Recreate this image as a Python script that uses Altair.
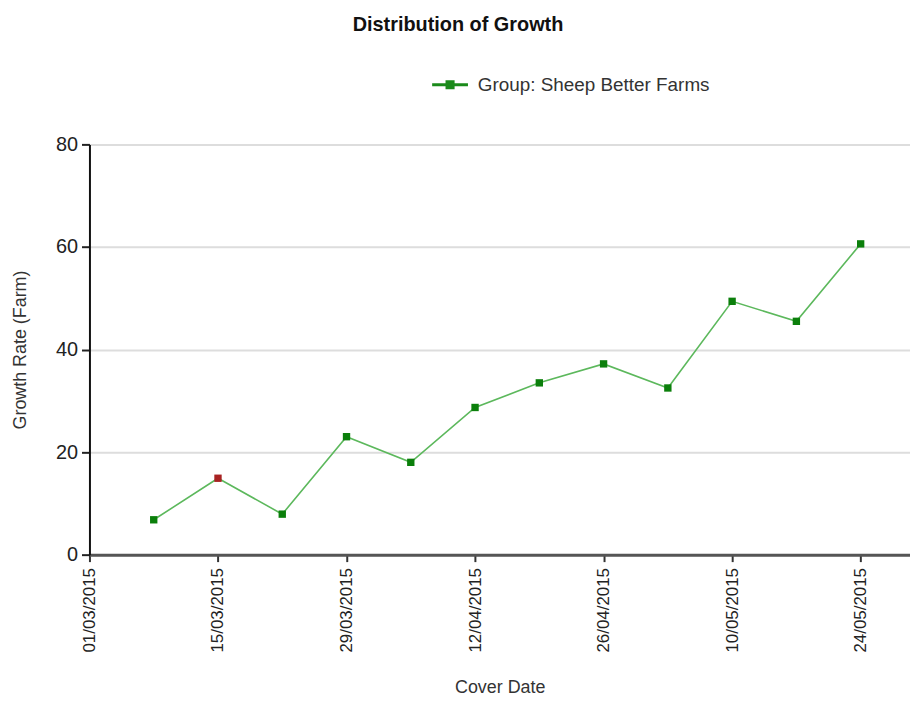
import altair as alt
import pandas as pd

# ---- data ----
dates = ["2015-03-08", "2015-03-15", "2015-03-22", "2015-03-29", "2015-04-05", "2015-04-12",
         "2015-04-19", "2015-04-26", "2015-05-03", "2015-05-10", "2015-05-17", "2015-05-24"]
growth = [6.8, 14.9, 7.9, 23.0, 18.0, 28.7, 33.5, 37.2, 32.5, 49.4, 45.5, 60.6]
marker_colors = ["#0b7f0b", "#a82222", "#0b7f0b", "#0b7f0b", "#0b7f0b", "#0b7f0b",
                 "#0b7f0b", "#0b7f0b", "#0b7f0b", "#0b7f0b", "#0b7f0b", "#0b7f0b"]
series_name = "Group: Sheep Better Farms"
tick_dates = [(2015, 3, 1), (2015, 3, 15), (2015, 3, 29), (2015, 4, 12),
              (2015, 4, 26), (2015, 5, 10), (2015, 5, 24)]
y_ticks = [0, 20, 40, 60, 80]

df = pd.DataFrame({
    "date": pd.to_datetime(dates),
    "growth": growth,
    "mcolor": marker_colors,
    "series": [series_name] * len(dates),
})

FONT = "Liberation Sans"

x_enc = alt.X(
    "date:T",
    title="Cover Date",
    scale=alt.Scale(domain=[alt.DateTime(year=2015, month=3, date=1),
                            alt.DateTime(year=2015, month=5, date=29, hours=9)]),
    axis=alt.Axis(
        values=[alt.DateTime(year=y, month=m, date=d) for (y, m, d) in tick_dates],
        format="%d/%m/%Y", labelAngle=270, labelAlign="right", labelBaseline="middle",
        labelFontSize=17, labelColor="#222", labelFont=FONT, labelPadding=6,
        grid=False, domainColor="#555", domainWidth=3, tickColor="#333",
        tickSize=7, tickWidth=2, titleFontSize=18, titleFont=FONT,
        titleFontWeight="normal", titleColor="#333", titlePadding=27,
        labelOverlap=False,
    ),
)
y_enc = alt.Y(
    "growth:Q",
    title="Growth Rate (Farm)",
    scale=alt.Scale(domain=[0, 80], nice=False),
    axis=alt.Axis(
        values=y_ticks, labelFontSize=20, labelColor="#222", labelFont=FONT,
        labelPadding=4, domainColor="#111", domainWidth=2, tickColor="#222",
        tickSize=8, tickWidth=2, gridColor="#dddddd", gridWidth=2,
        titleFontSize=18, titleFont=FONT, titleFontWeight="normal",
        titleColor="#333", titlePadding=26,
    ),
)

line = alt.Chart(df).mark_line(strokeWidth=1.6, stroke="#5cb85c").encode(
    x=x_enc, y=y_enc,
    color=alt.Color(
        "series:N",
        scale=alt.Scale(range=["#1a8a1a"]),
        legend=alt.Legend(
            title=None, orient="none", legendX=343, legendY=-80,
            symbolType="M-1,0L1,0M-0.17,-0.17L0.17,-0.17L0.17,0.17L-0.17,0.17Z",
            symbolSize=1300, symbolStrokeWidth=3, labelFontSize=19, labelFont=FONT,
            labelColor="#333", labelLimit=400, labelOffset=8,
        ),
    ),
)

points = alt.Chart(df).mark_square(size=55, opacity=1).encode(
    x="date:T", y="growth:Q",
    color=alt.Color("mcolor:N", scale=None),
)

chart = alt.layer(line, points).properties(
    width=826, height=413,
    title=alt.TitleParams("Distribution of Growth", fontSize=20, fontWeight="bold",
                          font=FONT, color="#111", anchor="middle", dx=-42, offset=30),
    autosize=alt.AutoSizeParams(type="none"),
    padding={"left": 82, "top": 135, "right": 0, "bottom": 142},
).configure_view(stroke=None)

chart.save("out.html", embed_options={"renderer": "svg", "actions": False})
